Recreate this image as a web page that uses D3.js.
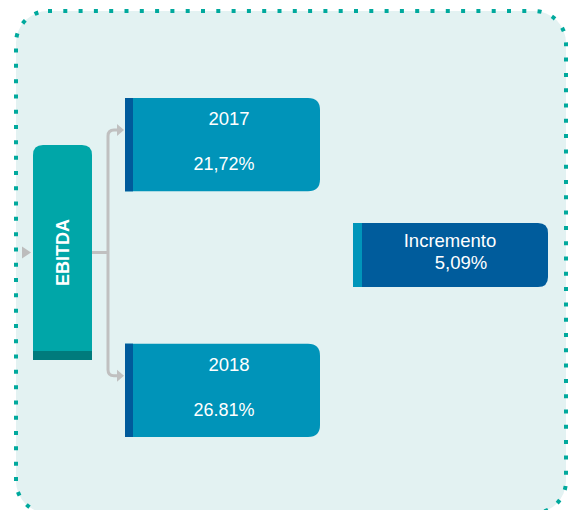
<!DOCTYPE html>
<html>
<head>
<meta charset="utf-8">
<script src="https://cdn.jsdelivr.net/npm/d3@7"></script>
<style>
  body { margin: 0; background: #fff; }
  svg { display: block; font-family: "Liberation Sans", Arial, sans-serif; }
</style>
</head>
<body>
<div id="chart-area"></div>
<script>
// data
const rootLabel = 'EBITDA';
const years = ['2017', '2018'];
const yearValues = ['21,72%', '26.81%'];
const incrementLabel = 'Incremento';
const incrementValue = '5,09%';

const width = 568;
const height = 510;

let svg = d3.select('#chart-area').append('svg').attr('width', width).attr('height', height);

// background panel
svg.append('rect')
    .attr('x', 16).attr('y', 11)
    .attr('width', 550).attr('height', 502)
    .attr('rx', 32)
    .attr('fill', '#e3f2f2');
svg.append('rect')
    .attr('x', 16).attr('y', 11)
    .attr('width', 550).attr('height', 502)
    .attr('rx', 32)
    .attr('fill', 'none')
    .attr('stroke', '#00a99d')
    .attr('stroke-width', 4)
    .attr('stroke-dasharray', '4,11.3');

// box with square left side and rounded right corners
function rightRounded(x, y, w, h, r) {
    return 'M' + x + ',' + y +
        'H' + (x + w - r) +
        'Q' + (x + w) + ',' + y + ' ' + (x + w) + ',' + (y + r) +
        'V' + (y + h - r) +
        'Q' + (x + w) + ',' + (y + h) + ' ' + (x + w - r) + ',' + (y + h) +
        'H' + x + 'Z';
}
function topRounded(x, y, w, h, r) {
    return 'M' + x + ',' + (y + h) +
        'V' + (y + r) +
        'Q' + x + ',' + y + ' ' + (x + r) + ',' + y +
        'H' + (x + w - r) +
        'Q' + (x + w) + ',' + y + ' ' + (x + w) + ',' + (y + r) +
        'V' + (y + h) + 'Z';
}

let y = d3.scaleBand()
    .domain(years)
    .range([98, 437])
    .paddingInner(0.62);

const boxX = 125;
const boxW = 195;
const bh = y.bandwidth();

// root box
const root = { x: 33, y: 145, w: 59, h: 215 };
const rootMid = root.y + root.h / 2;

svg.append('path')
    .attr('d', topRounded(root.x, root.y, root.w, root.h, 10))
    .attr('fill', '#00a6a8');
svg.append('rect')
    .attr('x', root.x).attr('y', root.y + root.h - 9)
    .attr('width', root.w).attr('height', 9)
    .attr('fill', '#007b7c');
svg.append('text')
    .attr('transform', 'translate(' + (root.x + root.w / 2 + 6.5) + ',' + rootMid + ') rotate(-90)')
    .attr('text-anchor', 'middle')
    .attr('fill', '#fff')
    .attr('font-size', 18)
    .attr('font-weight', 'bold')
    .text(rootLabel);

// incoming arrow
svg.append('path')
    .attr('d', 'M22,' + (rootMid - 6) + 'L31,' + rootMid + 'L22,' + (rootMid + 6) + 'Z')
    .attr('fill', '#bdbdbd');

// connectors
const vx = 108;
const r = 6;
svg.append('line')
    .attr('x1', root.x + root.w).attr('x2', vx)
    .attr('y1', rootMid).attr('y2', rootMid)
    .attr('stroke', '#c0c0c0').attr('stroke-width', 3);

let arrowY = years.map((d) => { return y(d) + 32; });
svg.append('path')
    .attr('d', 'M' + (vx + 9) + ',' + arrowY[0] +
        'H' + (vx + r) + 'Q' + vx + ',' + arrowY[0] + ' ' + vx + ',' + (arrowY[0] + r) +
        'V' + (arrowY[1] - r) + 'Q' + vx + ',' + arrowY[1] + ' ' + (vx + r) + ',' + arrowY[1] +
        'H' + (vx + 9))
    .attr('fill', 'none')
    .attr('stroke', '#c0c0c0').attr('stroke-width', 3);

svg.selectAll('.arrow').data(arrowY).enter().append('path')
    .attr('class', 'arrow')
    .attr('d', (d) => { return 'M' + (vx + 9) + ',' + (d - 6) + 'L' + (boxX - 1) + ',' + d + 'L' + (vx + 9) + ',' + (d + 6) + 'Z'; })
    .attr('fill', '#c0c0c0');

// year boxes
let boxes = svg.selectAll('.year').data(years).enter().append('g').attr('class', 'year');
boxes.append('path')
    .attr('d', (d) => { return rightRounded(boxX, y(d), boxW, bh, 12); })
    .attr('fill', '#0094b9');
boxes.append('rect')
    .attr('x', boxX).attr('y', (d) => { return y(d); })
    .attr('width', 8).attr('height', bh)
    .attr('fill', '#005a9b');
boxes.append('text')
    .attr('x', 229)
    .attr('y', (d) => { return y(d) + 27; })
    .attr('text-anchor', 'middle')
    .attr('fill', '#fff')
    .attr('font-size', 18.5)
    .text((d) => { return d; });
boxes.append('text')
    .attr('x', 224)
    .attr('y', (d) => { return y(d) + 72; })
    .attr('text-anchor', 'middle')
    .attr('fill', '#fff')
    .attr('font-size', 18)
    .text((d, i) => { return yearValues[i]; });

// increment box
const inc = { x: 353, y: 223, w: 195, h: 64 };
svg.append('path')
    .attr('d', rightRounded(inc.x, inc.y, inc.w, inc.h, 10))
    .attr('fill', '#005c9c');
svg.append('rect')
    .attr('x', inc.x).attr('y', inc.y)
    .attr('width', 9).attr('height', inc.h)
    .attr('fill', '#0096ba');
svg.append('text')
    .attr('x', 450).attr('y', inc.y + 24)
    .attr('text-anchor', 'middle')
    .attr('fill', '#fff')
    .attr('font-size', 18.5)
    .text(incrementLabel);
svg.append('text')
    .attr('x', 461).attr('y', inc.y + 46)
    .attr('text-anchor', 'middle')
    .attr('fill', '#fff')
    .attr('font-size', 18.5)
    .text(incrementValue);
</script>
</body>
</html>
